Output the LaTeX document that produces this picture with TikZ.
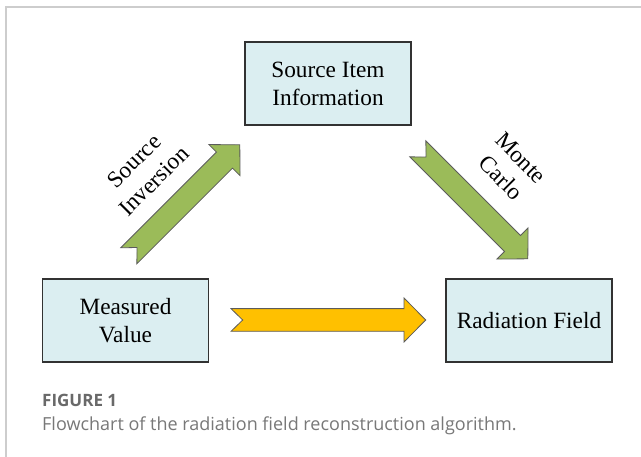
\documentclass[tikz,border=0pt]{standalone}
\usepackage{fontspec}
\setmainfont{Liberation Serif}
\newfontfamily\capfont{Open Sans}
\usetikzlibrary{calc}
\definecolor{boxfill}{RGB}{219,238,241}
\definecolor{boxline}{RGB}{50,50,50}
\definecolor{greenarr}{RGB}{155,187,89}
\definecolor{yellowarr}{RGB}{255,192,0}
\definecolor{framegray}{RGB}{205,205,205}
\definecolor{capgray}{RGB}{105,105,105}
\tikzset{
  infobox/.style={draw=boxline, line width=1.2pt, fill=boxfill, minimum width=166pt, minimum height=83pt, align=center, inner sep=0pt, font=\fontsize{23.3}{28}\selectfont},
  arrlabel/.style={align=center, inner sep=0pt, font=\fontsize{23.3}{28}\selectfont},
  fatarrow/.style={draw=boxline!80, line width=0.8pt, line join=miter}
}
% #1 tail centre, #2 angle, #3 length, #4 style
\newcommand{\myfatarrow}[4]{%
  \begin{scope}[shift={#1}, rotate=#2]
    \pgfmathsetmacro{\hb}{#3-21.7}
    \draw[fatarrow,#4] (0,11.35) -- (\hb,11.35) -- (\hb,22) -- (#3,0) -- (\hb,-22) -- (\hb,-11.35) -- (0,-11.35) -- (11.7,0) -- cycle;
  \end{scope}}
\begin{document}
\begin{tikzpicture}[x=1pt,y=1pt]
\useasboundingbox (0,0) rectangle (641,-457);
\fill[white] (0,0) rectangle (641,-457);
% frame
\draw[framegray, line width=1.5pt] (6,-457) -- (6,-7) -- (641,-7);
% boxes
\node[infobox] (si) at (328,-83.5) {Source Item\\Information};
\node[infobox] (mv) at (125.5,-320.5) {Measured\\Value};
\node[infobox] (rf) at (529,-320.5) {Radiation Field};
% arrows
\myfatarrow{(128.8,-255.8)}{45}{157}{fill=greenarr}
\myfatarrow{(417.8,-148.8)}{-45}{155.6}{fill=greenarr}
\myfatarrow{(231,-320)}{0}{194.7}{fill=yellowarr}
% labels
\node[arrlabel, rotate=45] (lsi) at (144,-171) {Source\\Inversion};
\node[arrlabel, rotate=-45] (lmc) at (511,-168) {Monte\\Carlo};
% caption
\node[anchor=base west, inner sep=0pt, text=capgray, font=\capfont\bfseries\fontsize{17}{20}\selectfont] (figlab) at (42,-407) {FIGURE 1};
\node[anchor=base west, inner sep=0pt, text=capgray!90, font=\capfont\fontsize{18}{22}\selectfont] (figcap) at (42,-431) {Flowchart of the radiation field reconstruction algorithm.};
\end{tikzpicture}
\end{document}
